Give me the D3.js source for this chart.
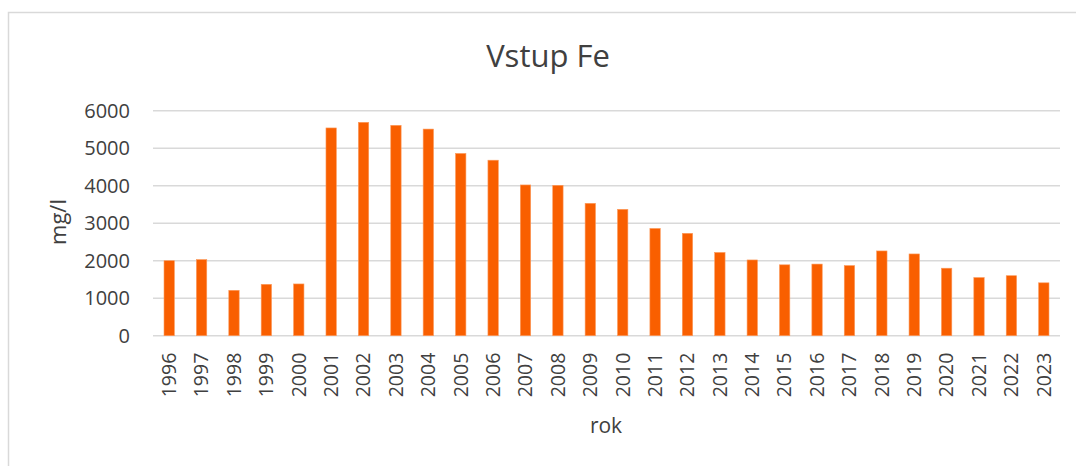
<!DOCTYPE html>
<html>
<head>
<meta charset="utf-8">
<script src="https://cdn.jsdelivr.net/npm/d3@7"></script>
<style>
  html, body { margin: 0; padding: 0; background: #fff; }
  svg { display: block; font-family: "Open Sans", sans-serif; }
</style>
</head>
<body>
<svg id="chart" width="1076" height="466"></svg>
<script>
const years = ["1996","1997","1998","1999","2000","2001","2002","2003","2004","2005","2006","2007","2008","2009","2010","2011","2012","2013","2014","2015","2016","2017","2018","2019","2020","2021","2022","2023"];
const values = [2000,2030,1210,1370,1380,5540,5690,5610,5510,4860,4680,4020,4010,3530,3370,2860,2730,2220,2020,1890,1910,1870,2260,2180,1800,1550,1600,1410];
const yTicks = [0,1000,2000,3000,4000,5000,6000];
const title = "Vstup Fe";
const xTitle = "rok";
const yTitle = "mg/l";

const svg = d3.select("#chart");
const textColor = "#404040";
const gridColor = "#d9d9d9";

// chart border
svg.append("rect")
  .attr("x", 8.5).attr("y", 12.5)
  .attr("width", 1200).attr("height", 600)
  .attr("fill", "none").attr("stroke", gridColor).attr("stroke-width", 1.5);

const x = d3.scaleBand().domain(years).range([153, 1060])
  .paddingInner(0.68).paddingOuter(0.34);
const y = d3.scaleLinear().domain([0, 6000]).range([335.7, 110.7]);

// gridlines
svg.append("g").selectAll("line").data(yTicks).join("line")
  .attr("x1", 153).attr("x2", 1060)
  .attr("y1", d => y(d)).attr("y2", d => y(d))
  .attr("stroke", gridColor).attr("stroke-width", 1.5);

// y axis labels
const yAxis = d3.axisLeft(y).tickValues(yTicks).tickSize(0).tickPadding(23).tickFormat(d3.format("d"));
const gy = svg.append("g").attr("transform", "translate(153,0)").call(yAxis);
gy.select(".domain").remove();
gy.selectAll("text").attr("fill", textColor).style("font-size", "20px")
  .style("font-family", "'Open Sans', sans-serif");

// bars
svg.append("g").selectAll("rect").data(values).join("rect")
  .attr("x", (d, i) => x(years[i]))
  .attr("width", x.bandwidth())
  .attr("y", d => y(d))
  .attr("height", d => y(0) - y(d))
  .attr("fill", "#f95f00")
  .attr("stroke", "#fc9a5c").attr("stroke-width", 0.6);

// x axis labels (rotated)
const xAxis = d3.axisBottom(x).tickSize(0).tickPadding(0);
const gx = svg.append("g").attr("transform", `translate(0,${y(0)})`).call(xAxis);
gx.select(".domain").remove();
gx.selectAll(".tick text")
  .attr("fill", textColor)
  .style("font-size", "19.5px")
  .style("font-family", "'Open Sans', sans-serif")
  .attr("text-anchor", "end")
  .attr("transform", "rotate(-90)")
  .attr("x", -17).attr("y", 0).attr("dy", "0.35em");

// title
svg.append("text").attr("x", 548).attr("y", 67)
  .attr("text-anchor", "middle").attr("fill", textColor)
  .style("font-size", "31px").text(title);

// axis titles
svg.append("text").attr("x", 606).attr("y", 433)
  .attr("text-anchor", "middle").attr("fill", textColor)
  .style("font-size", "21px").text(xTitle);

svg.append("text").attr("transform", "translate(66,222) rotate(-90)")
  .attr("text-anchor", "middle").attr("fill", textColor)
  .style("font-size", "22px").text(yTitle);
</script>
</body>
</html>
